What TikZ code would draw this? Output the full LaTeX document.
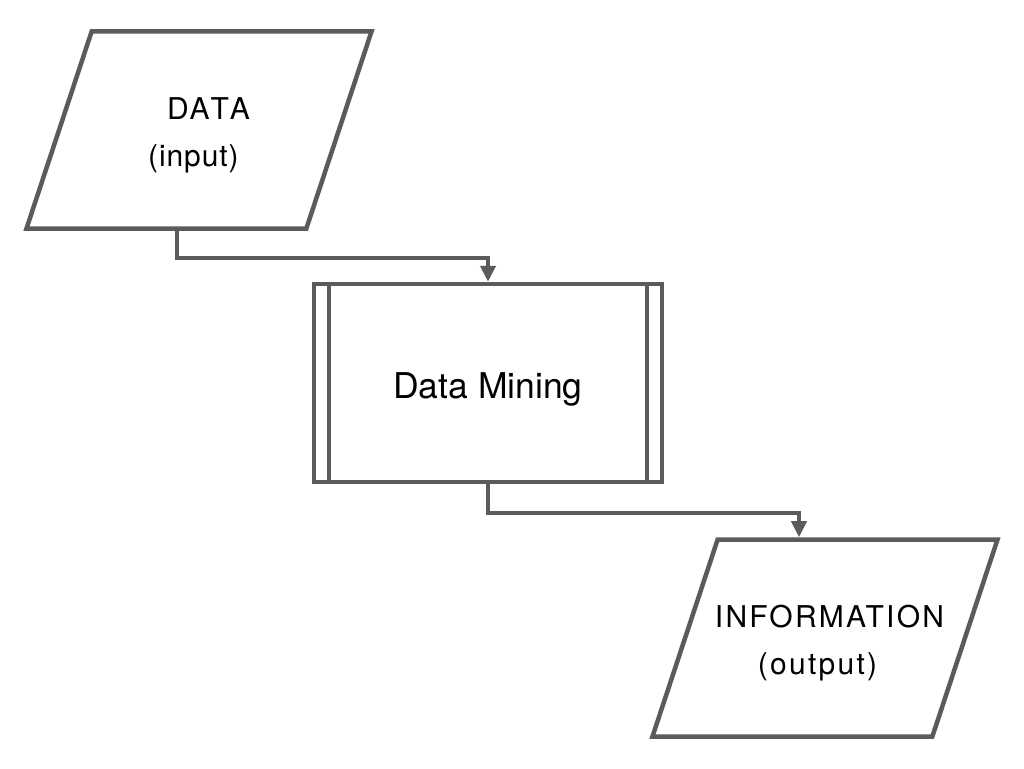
\documentclass[tikz,border=0pt]{standalone}
\usepackage{fontspec}
\setmainfont{TeX Gyre Heros}
\usetikzlibrary{arrows.meta,positioning,calc,shapes.geometric}
\definecolor{linegray}{HTML}{5B5B5B}

\begin{document}
\begin{tikzpicture}[x=1pt, y=-1pt,
  io/.style={trapezium, trapezium left angle=71.7, trapezium right angle=108.3,
    trapezium stretches body, draw=linegray, line width=4.5pt,
    minimum width=345pt, minimum height=197pt, inner sep=98.5pt},
  proc/.style={rectangle, draw=linegray, line width=4.5pt,
    minimum width=348pt, minimum height=198pt, inner sep=0pt},
  flow/.style={draw=linegray, line width=4pt, -{Triangle[width=15pt,length=16pt]}},
  txt30/.style={align=left, font=\fontsize{30}{47}\selectfont\addfontfeatures{Kerning=Off,LetterSpace=3}},
  txtinfo/.style={align=left, font=\fontsize{30}{47}\selectfont\addfontfeatures{LetterSpace=7.5}}]
  \useasboundingbox (0,0) rectangle (1024,768);

  \node (data) [io, label={[txt30]center:{\rule{0pt}{33pt}\hspace*{19pt}DATA\\(input)}}]
    at (199,130) {};
  \node (mining) [proc, font=\fontsize{35.5}{40}\selectfont, text height=31pt, text depth=0pt]
    at (488,383) {Data Mining};
  \node (info) [io, label={[txtinfo]center:{\rule{0pt}{33pt}\hspace*{9pt}INFORMATION\\\hspace*{52pt}(output)}}]
    at (825,638) {};

  % double sides of the process box
  \draw [linegray, line width=4pt]
  ([xshift=17.25pt]mining.north west) -- ([xshift=17.25pt]mining.south west)
  ([xshift=-17.25pt]mining.north east) -- ([xshift=-17.25pt]mining.south east);

  \draw [flow] ([xshift=-22pt]data.south) -- ++(0,27) -| (mining.north);
  \draw [flow] (mining.south) -- ++(0,29) -| ([xshift=-26pt]info.north);
\end{tikzpicture}
\end{document}
